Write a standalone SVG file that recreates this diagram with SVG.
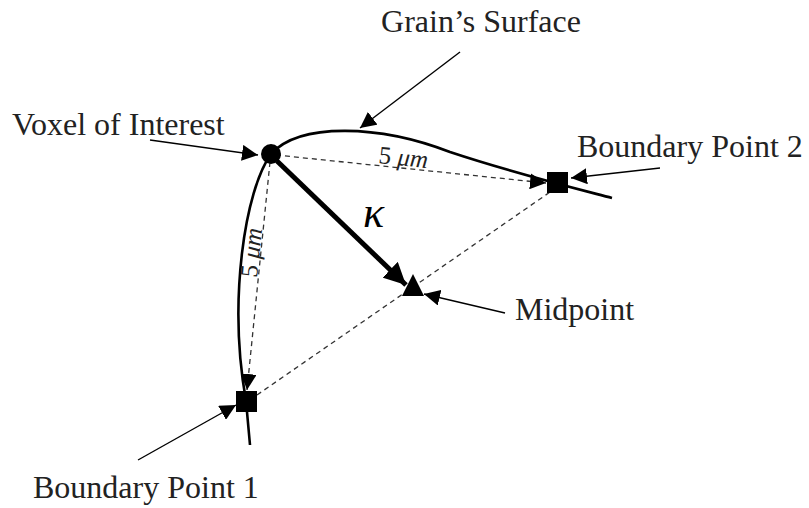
<svg xmlns="http://www.w3.org/2000/svg" width="809" height="508" viewBox="0 0 809 508">
<defs>
<marker id="ah" viewBox="0 0 10 10" refX="10" refY="5" markerWidth="16" markerHeight="16" markerUnits="userSpaceOnUse" orient="auto"><path d="M0,0 L10,5 L0,10 Z" fill="#000"/></marker>
<marker id="ahb" viewBox="0 0 10 10" refX="10" refY="5" markerWidth="22" markerHeight="22" markerUnits="userSpaceOnUse" orient="auto"><path d="M0,0 L10,5 L0,10 Z" fill="#000"/></marker>
</defs>
<style>
.lbl{font-family:"Liberation Serif","Times New Roman",serif;font-size:32px;fill:#222}
.dim{font-family:"Liberation Serif",serif;font-size:25px;fill:#222}
.ptr{stroke:#000;stroke-width:1.4;fill:none;marker-end:url(#ah)}
.dash{stroke:#333;stroke-width:1.3;stroke-dasharray:5,4;fill:none}
.curve{stroke:#000;stroke-width:2.6;fill:none}
</style>
<rect width="809" height="508" fill="#fff"/>
<g id="surface">
<path class="curve" d="M271,154 C300,122 380,125 450,152 C510,172 570,187 612,198"/>
<path class="curve" d="M271,154 C245,190 228,300 246,401 L250,445"/>
</g>
<g id="connectors">
<path class="dash" d="M276,155 L546,183" marker-end="url(#ah)"/>
<path class="dash" d="M270,162 L247,390" marker-end="url(#ah)"/>
<path class="dash" d="M257,395 L553,190"/>
<path d="M277,161 L406,285" stroke="#000" stroke-width="5" fill="none" marker-end="url(#ahb)"/>
<path class="ptr" d="M460,52 L360,128"/>
<path class="ptr" d="M150,140 L258,155"/>
<path class="ptr" d="M660,168 L571,178"/>
<path class="ptr" d="M505,313 L424,294"/>
<path class="ptr" d="M138,460 L236,405"/>
</g>
<g id="voxel"><circle cx="271" cy="154" r="10" fill="#000"/><text class="lbl" x="12" y="135">Voxel of Interest</text></g>
<g id="bp2"><rect x="547" y="172" width="21" height="21" fill="#000"/><text class="lbl" x="577" y="157">Boundary Point 2</text></g>
<g id="bp1"><rect x="236" y="391" width="21" height="21" fill="#000"/><text class="lbl" x="33" y="498">Boundary Point 1</text></g>
<g id="midpoint"><path d="M413,274 L424,296 L402,296 Z" fill="#000"/><text class="lbl" x="515" y="320">Midpoint</text></g>
<g id="grain"><text class="lbl" x="481" y="32" text-anchor="middle">Grain’s Surface</text></g>
<text class="dim" transform="translate(378,163) rotate(6)">5 <tspan font-style="italic">μm</tspan></text>
<text class="dim" transform="translate(257,278) rotate(-84)">5 <tspan font-style="italic">μm</tspan></text>
<text x="363" y="227" font-family="Liberation Serif,serif" font-style="italic" font-size="44" fill="#000">κ</text>
</svg>
